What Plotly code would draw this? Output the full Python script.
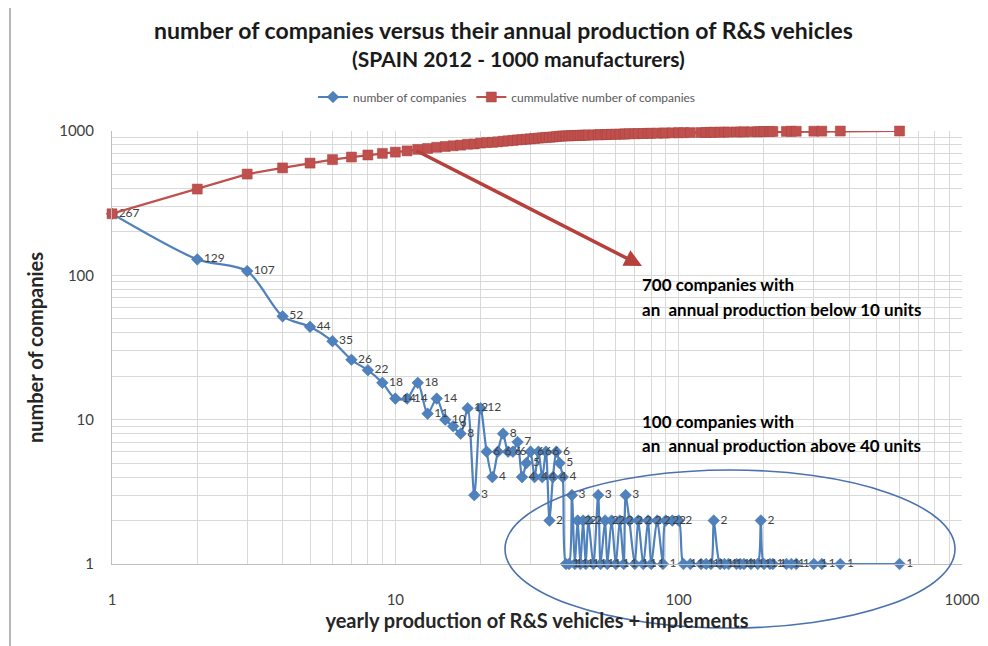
import numpy as np
import plotly.graph_objects as go

# production (units / year) and number of companies with that production
production = [1, 2, 3, 4, 5, 6, 7, 8, 9,
              10, 11, 12, 13, 14, 15, 16, 17, 18, 19, 20,
              21, 22, 23, 24, 25, 26, 27, 28, 29, 30,
              31, 32, 33, 34, 35, 36, 37, 38, 39, 40,
              41, 42, 43, 44, 45, 46, 47, 48, 50, 52, 53, 55, 56, 58, 60, 62, 64, 65, 67,
              70, 72, 75, 78, 80, 84, 88, 90, 95, 100, 104, 110,
              120, 125, 130, 133, 140, 145, 150, 160, 165, 170, 180, 190, 195, 200, 210, 215,
              240, 250, 260, 300, 320, 372, 602]
companies = [267, 129, 107, 52, 44, 35, 26, 22, 18,
             14, 14, 18, 11, 14, 10, 9, 8, 12, 3, 12,
             6, 4, 6, 8, 6, 6, 7, 4, 5, 6,
             4, 6, 4, 6, 2, 4, 6, 5, 4, 1,
             1, 3, 1, 2, 1, 2, 1, 2, 1, 3, 1, 2, 1, 2, 1, 2, 1, 3, 2,
             1, 2, 1, 2, 1, 2, 1, 2, 2, 2, 1, 1,
             1, 1, 1, 2, 1, 1, 1, 1, 1, 1, 1, 1, 2, 1, 1, 1,
             1, 1, 1, 1, 1, 1, 1]
cumulative = np.cumsum(companies).tolist()

x_ticks = [1, 10, 100, 1000]
y_ticks = [1, 10, 100, 1000]

BLUE = "#4F81BD"
RED = "#C0504D"
GRID = "#D9D9D9"
FONT = "Lato, sans-serif"

fig = go.Figure()
fig.add_trace(go.Scatter(
    x=production, y=companies, name="number of companies",
    mode="lines+markers+text",
    line=dict(color=BLUE, width=2.2, shape="spline", smoothing=0.8),
    marker=dict(symbol="diamond", size=9, color=BLUE, line=dict(color="#3f6fa8", width=0.5)),
    text=[str(v) for v in companies], textposition="middle right",
    textfont=dict(family=FONT, size=12, color="#404040"),
    cliponaxis=False,
))
fig.add_trace(go.Scatter(
    x=production, y=cumulative, name="cummulative number of companies",
    mode="lines+markers",
    line=dict(color=RED, width=2.2),
    marker=dict(symbol="square", size=10, color=RED, line=dict(color="#a8403d", width=0.5)),
    cliponaxis=False,
))

# page body has an 8px margin: the figure is drawn from (8, 8) in the window
OFF = 8
W, H = 988 - OFF, 646 - OFF
# plot area in window pixels
PL, PR, PT, PB = 112, 962, 131, 564
L, R, T, B = PL - OFF, W - (PR - OFF), PT - OFF, H - (PB - OFF)
pw, ph = W - L - R, H - T - B

def px(xs):
    return (xs - OFF - L) / pw

def py(ys):
    return (H - B - (ys - OFF)) / ph

axis_common = dict(
    type="log", range=[0, 3], tickmode="array", automargin=False,
    showgrid=True, gridcolor=GRID, gridwidth=1,
    showline=True, linecolor="#BFBFBF", linewidth=1,
    zeroline=False,
    tickfont=dict(family=FONT, size=15, color="#404040"),
    minor=dict(showgrid=True, gridcolor=GRID, gridwidth=1,
               tickvals=[m * 10 ** d for d in range(3) for m in range(2, 10)]),
)

fig.update_xaxes(**axis_common, tickvals=x_ticks, ticktext=[str(v) for v in x_ticks],
                 ticklabelstandoff=22,
                 title=dict(text="<b>yearly production of R&S vehicles + implements</b>",
                            font=dict(family=FONT, size=20, color="#262626"),
                            standoff=6))
fig.update_yaxes(**axis_common, tickvals=y_ticks, ticktext=[str(v) for v in y_ticks],
                 ticklabelstandoff=14,
                 title=dict(text="<b>number of companies</b>",
                            font=dict(family=FONT, size=20, color="#262626"),
                            standoff=10))

annots = []
# title lines
annots.append(dict(xref="paper", yref="paper", x=px(503), y=py(30), xanchor="center", yanchor="middle",
                   text="<b>number of companies versus their annual production of R&S vehicles</b>",
                   showarrow=False, font=dict(family=FONT, size=23, color="#1a1a1a")))
annots.append(dict(xref="paper", yref="paper", x=px(518), y=py(59), xanchor="center", yanchor="middle",
                   text="<b>(SPAIN 2012 - 1000 manufacturers)</b>",
                   showarrow=False, font=dict(family=FONT, size=21, color="#1a1a1a")))
# text blocks
for txt, yy in [("700 companies with", 284), ("an  annual production below 10 units", 309),
                ("100 companies with", 421), ("an  annual production above 40 units", 445)]:
    annots.append(dict(xref="paper", yref="paper", x=px(640), y=py(yy), xanchor="left", yanchor="middle",
                       text="<b>" + txt + "</b>", showarrow=False,
                       font=dict(family=FONT, size=17, color="#000000")))
# arrow
annots.append(dict(xref="paper", yref="paper", x=px(642), y=py(266), ax=415 - 642, ay=150 - 266,
                   axref="pixel", ayref="pixel", text="", showarrow=True,
                   arrowhead=2, arrowsize=1, arrowwidth=3.5, arrowcolor="#B8403C"))

shapes = [
    dict(type="circle", xref="paper", yref="paper",
         x0=px(505), x1=px(955), y0=py(628), y1=py(470),
         line=dict(color="#4A72AE", width=1.6), fillcolor="rgba(0,0,0,0)"),
    dict(type="line", xref="paper", yref="paper", x0=px(10), x1=px(10), y0=py(OFF), y1=py(646),
         line=dict(color="#9E9E9E", width=1.5)),
]

fig.update_layout(
    width=W, height=H,
    margin=dict(l=L, r=R, t=T, b=B, autoexpand=False),
    paper_bgcolor="white", plot_bgcolor="white",
    font=dict(family=FONT),
    showlegend=True,
    legend=dict(orientation="h", x=px(507), xanchor="center", y=py(97), yanchor="middle",
                font=dict(family=FONT, size=12, color="#595959"),
                itemwidth=30, bgcolor="rgba(0,0,0,0)"),
    annotations=annots, shapes=shapes,
)

fig.write_html("out.html")
